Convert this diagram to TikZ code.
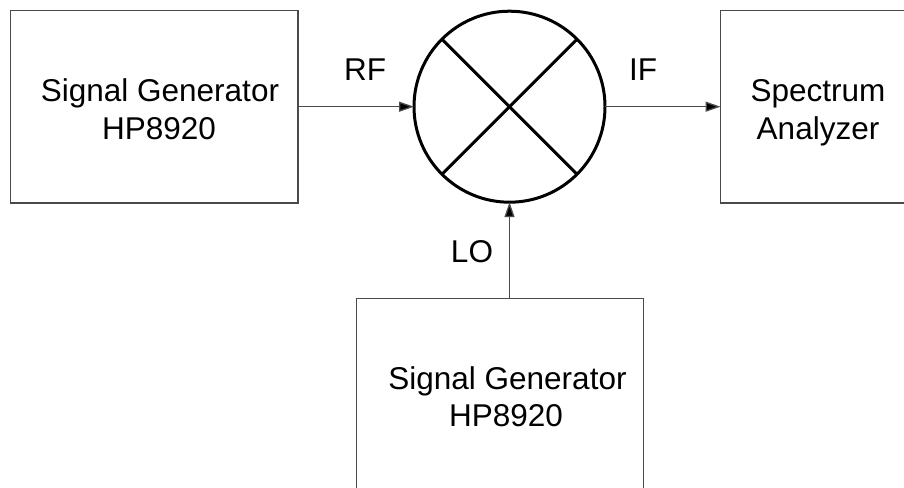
\documentclass[tikz,border=0pt]{standalone}
\usepackage{fontspec}
\setmainfont{Liberation Sans}
\usetikzlibrary{arrows.meta}
\definecolor{boxgray}{HTML}{4A4A4A}
\begin{document}
\begin{tikzpicture}[x=1pt,y=-1pt,
  box/.style={draw=boxgray, line width=1.3pt, rectangle, inner sep=0pt, outer sep=0pt,
              minimum width=287.5pt, minimum height=192.5pt},
  txt/.style={font=\fontsize{31.5}{37}\selectfont, inner sep=0pt, anchor=base},
  conn/.style={draw=boxgray, line width=1.3pt, -{Triangle[length=15pt,width=10pt,fill=black]}},
  mix/.style={draw=black, line width=3pt, circle, inner sep=0pt, outer sep=0pt, minimum size=191pt},
]
\useasboundingbox (0,0) rectangle (904,487);
\clip (0,0) rectangle (904,487);
\node[box] (gen1) at (154.25,106.75) {};
\node[box] (spec) at (864.25,106.75) {};
\node[box] (gen2) at (500,395) {};
\node[mix] (mixer) at (509.5,106.7) {};
\draw[line width=3pt] (mixer.45) -- (mixer.225);
\draw[line width=3pt] (mixer.135) -- (mixer.315);
\draw[conn] (gen1.east |- mixer.west) -- (mixer.west);
\draw[conn] (mixer.east) -- (spec.west |- mixer.east);
\draw[conn] (gen2.north -| mixer.south) -- (mixer.south);
\node[txt] (g1a) at (160,101.7) {Signal Generator};
\node[txt] (g1b) at (159,139) {HP8920};
\node[txt] (spa) at (818,101.7) {Spectrum};
\node[txt] (spb) at (818,139) {Analyzer};
\node[txt] (g2a) at (507.5,389) {Signal Generator};
\node[txt] (g2b) at (506,426.5) {HP8920};
\node[txt] (rf) at (365,80) {RF};
\node[txt] (if) at (643,80) {IF};
\node[txt] (lo) at (472,262.7) {LO};
\end{tikzpicture}
\end{document}
